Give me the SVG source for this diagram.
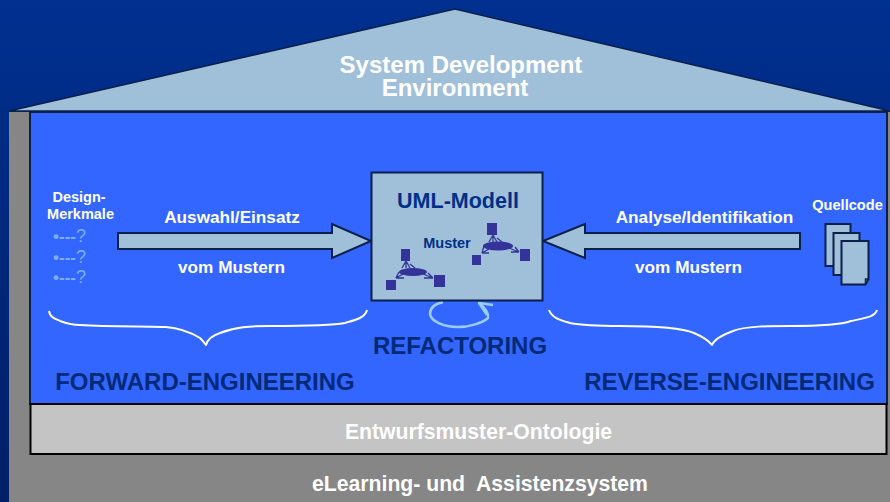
<svg xmlns="http://www.w3.org/2000/svg" width="890" height="502" viewBox="0 0 890 502">
<style>
text{font-family:"Liberation Sans",Arial,sans-serif;font-weight:700;text-anchor:middle}
.w{fill:#fff}.n{fill:#003087}.b{fill:#002a78}
.fill{fill:#a0c0da;stroke:#0a1f4a;stroke-width:2}
.brace{fill:none;stroke:#fff;stroke-width:2;stroke-linejoin:round}
.sq{fill:#333399}
.th{stroke:#333399;stroke-width:1.300;fill:none}
.q{fill:#7fb0ff}
.qm{font-size:18px;font-weight:400}
.loop{fill:none;stroke:#99ccff;stroke-width:2.500;stroke-linejoin:round}
</style>
<defs>
<linearGradient id="bg" x1="0" y1="0" x2="0" y2="1"><stop offset="0" stop-color="#003090"/><stop offset="1" stop-color="#001f66"/></linearGradient>
</defs>
<rect width="890" height="502" fill="url(#bg)"/>
<g id="base"><rect x="9" y="112" width="881" height="390" fill="#868686"/>
<text class="w" x="480" y="491" font-size="21.200" xml:space="preserve">eLearning- und  Assistenzsystem</text></g>
<g id="roof"><polygon points="9,111 455,9 890,111" fill="#a0c0da" stroke="#0a1f4a" stroke-width="1.500"/>
<text class="w" x="461" y="73" font-size="24">System Development</text>
<text class="w" x="455" y="96" font-size="24">Environment</text></g>
<g id="environment"><rect x="30" y="112" width="857" height="292" fill="#3366ff" stroke="#0a1f4a" stroke-width="2"/></g>
<g id="ontology"><rect x="30.500" y="404" width="856" height="50" fill="#c4c4c4" stroke="#000" stroke-width="2"/>
<text class="w" x="478.500" y="439" font-size="21.200">Entwurfsmuster-Ontologie</text></g>
<g id="connectors">
<polygon class="fill" points="118,233 332,233 332,224 371,241 332,258 332,249 118,249"/>
<polygon class="fill" points="800,233 585,233 585,224 543,241 585,258 585,249 800,249"/>
<path class="loop" d="M443 302C434 304 430 308 430 314C431 321 443 327 458 327C470 327 482 323 488 318C489 313 484 307 479 303"/>
<path class="loop" d="M493 305L479 303L487 315"/>
<path class="brace" d="M49 311C50 318 56 319 60 321C68 324 72 325 80 325C110 327 150 326 166 327C180 328 190 332 200 338C202 340 204 342 206 345C207 341 211 336 220 333C235 327 250 326 270 326C300 326 330 326 345 323C355 320 365 318 367 310"/>
<path class="brace" d="M549 310C552 318 560 320 570 323C585 326 600 326 620 326C650 326 680 327 694 333C701 336 708 340 712 345C714 340 722 335 733 331C745 326 770 326 790 326C810 326 840 325 851 321C865 318 875 317 877 310"/>
</g>
<g id="uml"><rect x="371.500" y="172.500" width="171" height="128" fill="#a0c0da" stroke="#0a1f4a" stroke-width="2"/>
<text class="n" x="458" y="208" font-size="21.500">UML-Modell</text>
<text class="n" x="447" y="248" font-size="14.500">Muster</text>
<g id="pattern-a">
<path class="th" d="M406 261L410 268M406 261L402 268M406 261L406 268M410 264L415 268M396 278L403 274M396 278H404M396 278L399 272M433 278L423 274M433 278H424M433 278L428 273"/>
<ellipse cx="413" cy="272" rx="14" ry="4" class="sq"/>
<rect class="sq" x="401" y="249" width="9" height="12"/><rect class="sq" x="386" y="280" width="10" height="10"/><rect class="sq" x="434" y="275" width="11" height="12"/>
</g>
<g id="pattern-b">
<path class="th" d="M493 235L497 242M493 235L489 242M493 235L493 242M497 238L502 242M482 253L489 249M482 253H489M482 253L484 246M519 252L509 248M519 252H511M519 252L515 247"/>
<ellipse cx="498" cy="246" rx="15" ry="4.500" class="sq"/>
<rect class="sq" x="487" y="223" width="10" height="12"/><rect class="sq" x="472" y="255" width="9" height="10"/><rect class="sq" x="520" y="249" width="10" height="12"/>
</g></g>
<g id="forward-labels">
<text class="w" x="79" y="202" font-size="14.500">Design-</text>
<text class="w" x="80.500" y="219" font-size="14.500">Merkmale</text>
<text class="q" x="69.500" y="242" font-size="17">•---<tspan class="qm">?</tspan></text>
<text class="q" x="69.500" y="263" font-size="17">•---<tspan class="qm">?</tspan></text>
<text class="q" x="69.500" y="283" font-size="17">•---<tspan class="qm">?</tspan></text>
<text class="w" x="232" y="223" font-size="17.200">Auswahl/Einsatz</text>
<text class="w" x="231.500" y="273" font-size="17.200">vom Mustern</text>
<text class="b" x="205" y="390" font-size="24">FORWARD-ENGINEERING</text></g>
<g id="reverse-labels">
<text class="w" x="704.500" y="223" font-size="17.200">Analyse/Identifikation</text>
<text class="w" x="688.500" y="273" font-size="17.200">vom Mustern</text>
<text class="w" x="847.500" y="210" font-size="14.600">Quellcode</text>
<text class="b" x="729.500" y="390" font-size="24">REVERSE-ENGINEERING</text></g>
<g id="refactoring"><text class="b" x="460" y="354" font-size="24">REFACTORING</text></g>
<g id="sourcefiles">
<rect class="fill" x="825.500" y="224" width="25" height="42" stroke-width="1.500"/>
<rect class="fill" x="833.500" y="233" width="26" height="42" stroke-width="1.500"/>
<path class="fill" d="M841.500 241H868.500V279L865.500 284.500H841.500Z" stroke-width="1.500"/>
<path d="M865.500 284.500V279H868.500" fill="none" stroke="#0a1f4a" stroke-width="1.500"/>
</g>
</svg>
